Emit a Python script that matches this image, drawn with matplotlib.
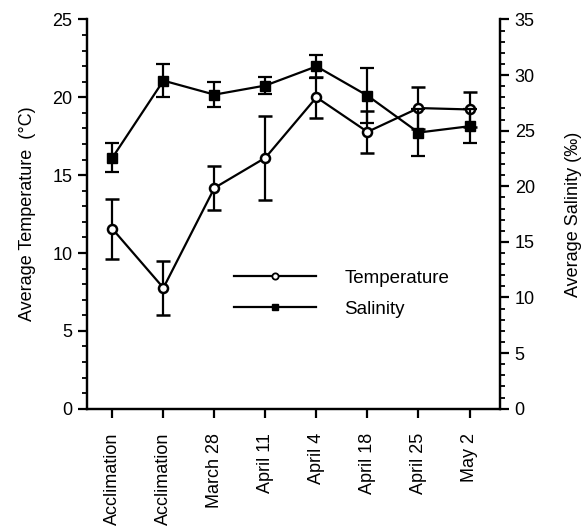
import matplotlib
matplotlib.use("Agg")
import matplotlib.pyplot as plt
from matplotlib.lines import Line2D
from matplotlib.ticker import MultipleLocator

plt.rcParams['font.family'] = ['Liberation Sans', 'DejaVu Sans']

dates = ["Acclimation", "Acclimation", "March 28", "April 11", "April 4",
         "April 18", "April 25", "May 2"]
temp = [11.55, 7.76, 14.18, 16.12, 20.0, 17.78, 19.31, 19.22]
temp_err = [1.95, 1.72, 1.43, 2.7, 1.3, 1.35, 1.35, 1.15]
salinity = [22.57, 29.5, 28.24, 29.06, 30.78, 28.15, 24.83, 25.4]
salinity_err = [1.3, 1.5, 1.15, 0.8, 1.05, 2.45, 2.1, 1.55]

x = list(range(len(dates)))

fig = plt.figure(figsize=(5.87, 5.26), dpi=100)
ax = fig.add_axes([0.148, 0.223, 0.704, 0.740])
ax2 = ax.twinx()

ax.errorbar(x, temp, yerr=temp_err, color='black', lw=1.6, capsize=5,
            capthick=1.6, elinewidth=1.6, marker='o', ms=6.5,
            mfc='white', mec='black', mew=1.8)
ax2.errorbar(x, salinity, yerr=salinity_err, color='black', lw=1.6,
             capsize=5, capthick=1.6, elinewidth=1.6, marker='s',
             ms=6.5, mfc='black', mec='black')

ax.set_xlim(-0.5, 7.6)
ax.set_ylim(0, 25)
ax2.set_ylim(0, 35)
ax.yaxis.set_major_locator(MultipleLocator(5))
ax.yaxis.set_minor_locator(MultipleLocator(1))
ax2.yaxis.set_major_locator(MultipleLocator(5))
ax2.yaxis.set_minor_locator(MultipleLocator(1))

ax.set_xticks(x)
ax.set_xticklabels(dates, rotation=90, fontsize=13)

for a in (ax, ax2):
    a.spines['top'].set_visible(False)
    for s in ('left', 'right', 'bottom'):
        a.spines[s].set_linewidth(1.6)
    a.tick_params(which='major', direction='out', length=6.5, width=1.6,
                  labelsize=13, pad=4)
    a.tick_params(which='minor', direction='out', length=3.5, width=1.3)
ax.tick_params(axis='x', pad=11)

ax.set_ylabel("Average Temperature  (°C)", fontsize=13, labelpad=12)
ax2.set_ylabel("Average Salinity (‰)", fontsize=13, labelpad=22)

handles = [
    Line2D([], [], color='black', lw=1.6, marker='o', ms=4.5, mfc='white',
           mec='black', mew=1.3),
    Line2D([], [], color='black', lw=1.6, marker='s', ms=5, mfc='black',
           mec='black'),
]
ax.legend(handles, ['Temperature', 'Salinity'], loc='center left',
          bbox_to_anchor=(0.315, 0.295), frameon=False, fontsize=13.5,
          handlelength=4.4, handletextpad=1.5, labelspacing=0.75)

fig.savefig("out.png", dpi=100)
